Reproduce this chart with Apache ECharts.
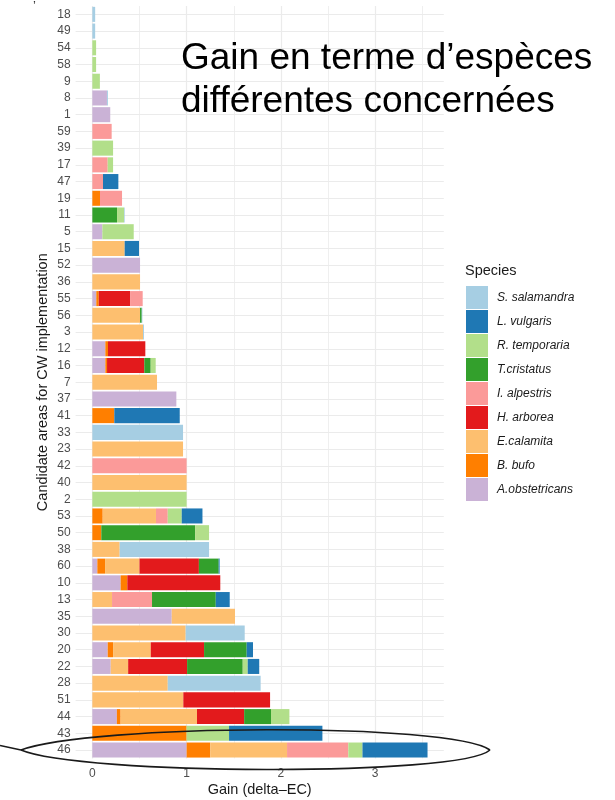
<!DOCTYPE html>
<html>
<head>
<meta charset="utf-8">
<script src="https://cdn.jsdelivr.net/npm/echarts@6/dist/echarts.min.js"></script>
<style>
  html, body { margin: 0; padding: 0; background: #fff; }
  #chart { width: 615px; height: 800px; }
</style>
</head>
<body>
<div id="chart"></div>
<script>
// Candidate areas, listed top to bottom
var areas = ['18','49','54','58','9','8','1','59','39','17','47','19','11','5','15','52','36','55','56','3',
             '12','16','7','37','41','33','23','42','40','2','53','50','38','60','10','13','35','30','20','22',
             '28','51','44','43','46'];

// Gain per species and area (same order as areas)
var aObstetricans = [0,0,0,0,0,0.155,0.19,0,0,0, 0,0,0,0.106,0,0.506,0,0.042,0,0,
                     0.138,0.138,0,0.891,0,0,0,0,0,0, 0,0,0,0.053,0.30,0,0.842,0,0.163,0.195,
                     0,0,0.26,0,1.0];
var bBufo         = [0,0,0,0,0,0,0,0,0,0, 0,0.081,0,0,0,0,0,0.026,0,0,
                     0.028,0.018,0,0,0.233,0,0,0,0,0, 0.11,0.095,0,0.082,0.071,0,0,0,0.057,0,
                     0,0,0.04,1.0,0.25];
var eCalamita     = [0,0,0,0,0,0,0,0,0,0, 0,0,0,0,0.343,0,0.506,0,0.506,0.538,
                     0,0,0.686,0,0,0,0.962,0,1.0,0, 0.565,0,0.29,0.365,0,0.209,0.671,0.99,0.40,0.185,
                     0.80,0.965,0.81,0,0.815];
var hArborea      = [0,0,0,0,0,0,0,0,0,0, 0,0,0,0,0,0,0,0.332,0,0,
                     0.396,0.395,0,0,0,0,0,0,0,0, 0,0,0,0.63,0.986,0,0,0,0.565,0.625,
                     0,0.92,0.50,0,0];
var iAlpestris    = [0,0,0,0,0,0,0,0.205,0,0.163, 0.113,0.234,0,0,0,0,0,0.134,0,0,
                     0,0,0,0,0,0,0,1.0,0,0, 0.125,0,0,0,0,0.424,0,0,0,0,
                     0,0,0,0,0.65];
var tCristatus    = [0,0,0,0,0,0,0,0,0,0, 0,0,0.262,0,0,0,0,0,0.018,0,
                     0,0.068,0,0,0,0,0,0,0,0, 0,0.995,0,0.21,0,0.676,0,0,0.452,0.59,
                     0,0,0.285,0,0];
var rTemporaria   = [0,0,0.04,0.04,0.08,0,0,0,0.22,0.057, 0,0,0.074,0.333,0,0,0,0,0,0,
                     0,0.053,0,0,0,0,0,0,0,1.0, 0.148,0.148,0,0,0,0,0,0,0,0.053,
                     0,0,0.195,0.45,0.15];
var lVulgaris     = [0,0,0,0,0,0,0,0,0,0, 0.163,0,0,0,0.152,0,0,0,0,0,
                     0,0,0,0,0.694,0,0,0,0,0, 0.22,0,0,0.01,0,0.148,0,0,0.067,0.122,
                     0,0,0,0.99,0.69];
var sSalamandra   = [0.03,0.03,0,0,0,0.01,0,0,0,0, 0,0,0.007,0,0,0,0,0,0.007,0.01,
                     0,0,0,0,0,0.962,0,0,0,0, 0,0,0.948,0,0,0,0,0.626,0,0,
                     0.985,0,0,0,0];

// Stacking order, left to right
var speciesNames = ['A.obstetricans','B. bufo','E.calamita','H. arborea','I. alpestris',
                    'T.cristatus','R. temporaria','L. vulgaris','S. salamandra'];
var speciesValues = [aObstetricans, bBufo, eCalamita, hArborea, iAlpestris,
                     tCristatus, rTemporaria, lVulgaris, sSalamandra];
var speciesColors = ['#CAB2D6','#FF7F00','#FDBF6F','#E31A1C','#FB9A99',
                     '#33A02C','#B2DF8A','#1F78B4','#A6CEE3'];

var xLabels = [0, 1, 2, 3];
var xGrid = [0, 0.5, 1, 1.5, 2, 2.5, 3, 3.5];

var FONT = '"Liberation Sans", Arial, sans-serif';

// Background grid: vertical lines every 0.5, horizontal lines through each area
var gridLines = [];
xGrid.forEach(function (v) {
  gridLines.push({ xAxis: v, lineStyle: { width: (v % 1 === 0) ? 1.2 : 0.8, color: '#ebebeb', type: 'solid' } });
});
areas.forEach(function (a) {
  gridLines.push({ yAxis: a, lineStyle: { width: 1.2, color: '#ebebeb', type: 'solid' } });
});

var series = speciesNames.map(function (name, i) {
  var s = {
    name: name,
    type: 'bar',
    stack: 'gain',
    data: speciesValues[i],
    barCategoryGap: '10%',
    itemStyle: { color: speciesColors[i] },
    z: 2
  };
  if (i === 0) {
    s.markLine = {
      silent: true,
      symbol: 'none',
      z: 1,
      animation: false,
      label: { show: false },
      data: gridLines
    };
  }
  return s;
});

var ringStyle = { fill: 'none', stroke: '#1a1a1a', lineWidth: 1.6 };

var chart = echarts.init(document.getElementById('chart'), null, { renderer: 'canvas' });
chart.setOption({
  animation: false,
  backgroundColor: '#ffffff',
  textStyle: { fontFamily: FONT },
  grid: { left: 75.6, right: 171.2, top: 6, bottom: 41.6, outerBoundsMode: 'none', containLabel: false },
  xAxis: {
    type: 'value',
    min: -0.1775,
    max: 3.7275,
    axisLine: { show: false },
    axisTick: { show: false },
    splitLine: { show: false },
    axisLabel: { customValues: xLabels, color: '#4d4d4d', fontSize: 12, fontFamily: FONT, margin: 9 },
    name: 'Gain (delta\u2013EC)',
    nameLocation: 'middle',
    nameGap: 24,
    nameMoveOverlap: false,
    nameTextStyle: { color: '#1a1a1a', fontSize: 14.5, fontFamily: FONT }
  },
  yAxis: {
    type: 'category',
    data: areas,
    inverse: true,
    axisLine: { show: false },
    axisTick: { show: false },
    splitLine: { show: false },
    axisLabel: { color: '#4d4d4d', fontSize: 12, fontFamily: FONT, margin: 5 },
    name: 'Candidate areas for CW implementation',
    nameLocation: 'middle',
    nameRotate: 90,
    nameGap: 25,
    nameMoveOverlap: false,
    nameTextStyle: { color: '#1a1a1a', fontSize: 14.5, fontFamily: FONT }
  },
  legend: {
    orient: 'vertical',
    left: 466,
    top: 286,
    padding: 0,
    itemWidth: 22,
    itemHeight: 23,
    itemGap: 1,
    icon: 'rect',
    selectedMode: false,
    data: speciesNames.slice().reverse(),
    textStyle: { fontStyle: 'italic', fontSize: 12, color: '#1a1a1a', fontFamily: FONT, padding: [0, 0, 0, 4] }
  },
  graphic: [
    {
      type: 'text', left: 465, top: 263,
      style: { text: 'Species', font: '14.5px ' + FONT, fill: '#1a1a1a' }
    },
    {
      type: 'text', left: 181, top: 37, z: 10,
      style: {
        text: 'Gain en terme d\u2019esp\u00e8ces\ndiff\u00e9rentes concern\u00e9es',
        font: '37px ' + FONT, fill: '#000000', lineHeight: 43
      }
    },
    {
      type: 'text', left: 33, top: 0,
      style: { text: '\u2019', font: '13px ' + FONT, fill: '#333333' }
    },
    // highlight ring around the top-ranked area
    {
      type: 'line', z: 20, silent: true,
      shape: { x1: 0, y1: 745.5, x2: 21, y2: 750 },
      style: ringStyle
    },
    {
      type: 'bezierCurve', z: 20, silent: true,
      shape: { x1: 21, y1: 750, cpx1: 90, cpy1: 724, cpx2: 450, cpy2: 722, x2: 490, y2: 750 },
      style: ringStyle
    },
    {
      type: 'bezierCurve', z: 20, silent: true,
      shape: { x1: 21, y1: 750, cpx1: 80, cpy1: 775, cpx2: 460, cpy2: 777, x2: 490, y2: 750 },
      style: ringStyle
    }
  ],
  series: series
});
</script>
</body>
</html>
